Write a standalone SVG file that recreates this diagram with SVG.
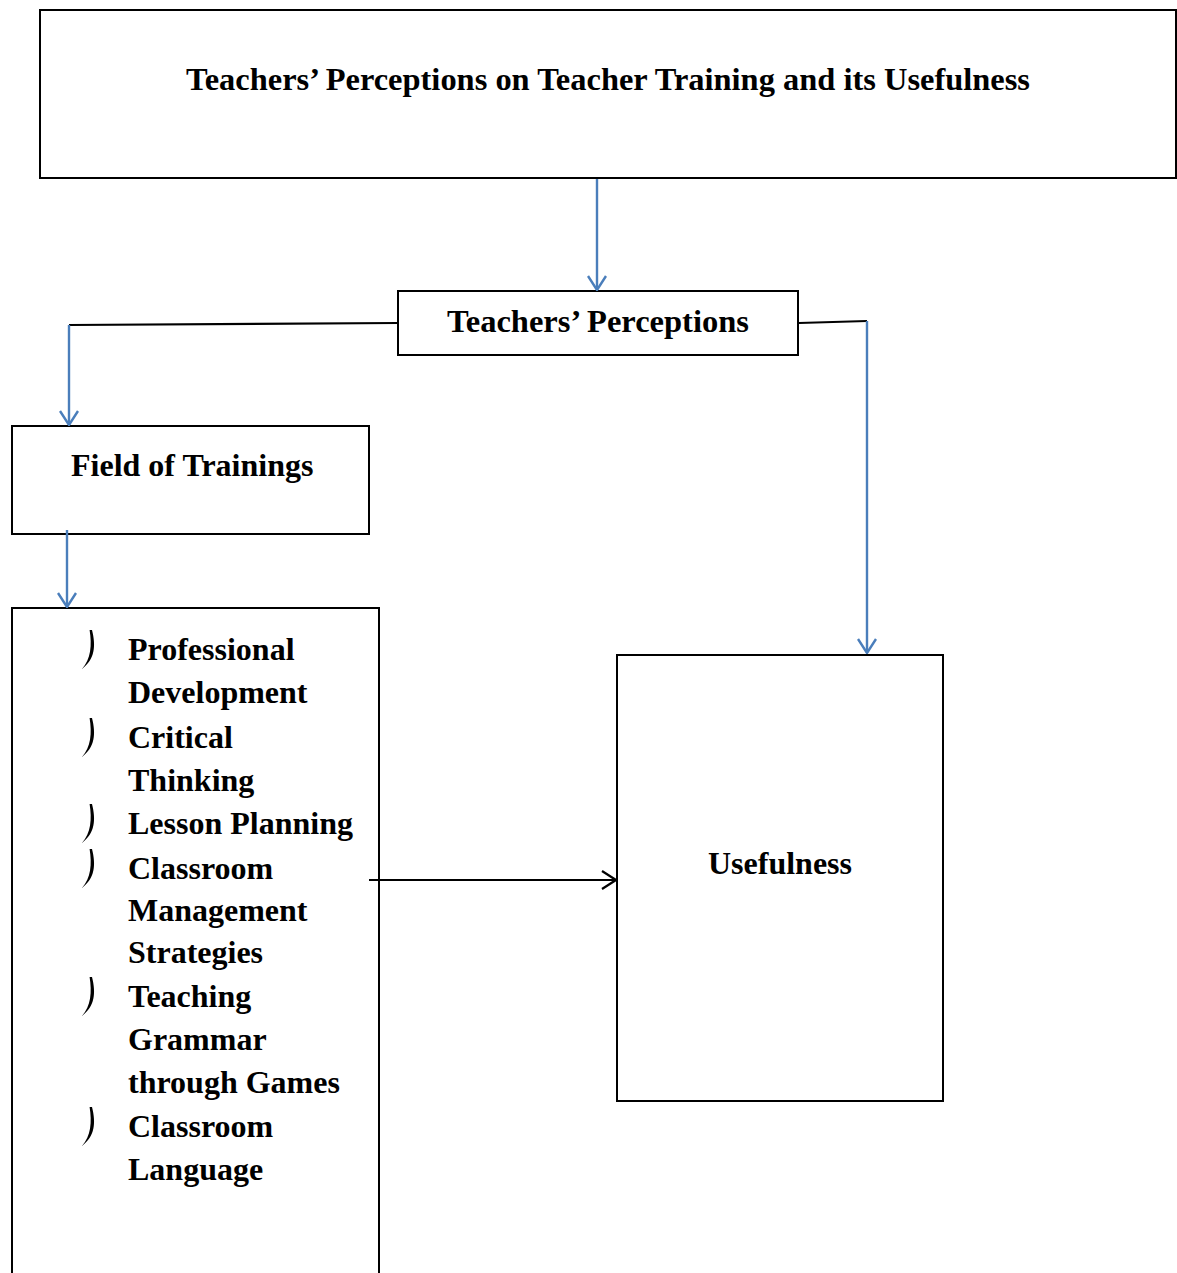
<svg xmlns="http://www.w3.org/2000/svg" width="1177" height="1273" viewBox="0 0 1177 1273">
  <style>
    .box { fill: #ffffff; stroke: #000000; stroke-width: 2; }
    .lbl { font-family: "Liberation Serif", "Times New Roman", serif; font-weight: bold; font-size: 32px; fill: #000000; }
    .blue { fill: none; stroke: #4a7ebb; stroke-width: 2.4; }
    .black { fill: none; stroke: #000000; stroke-width: 2.2; }
    .bullet { fill: #000000; stroke: none; }
  </style>
  <defs>
    <marker id="arrowBlue" viewBox="0 0 16 20" refX="15" refY="10" markerWidth="16" markerHeight="20" markerUnits="userSpaceOnUse" orient="auto">
      <path d="M1,1 L15,10 L1,19" fill="none" stroke="#4a7ebb" stroke-width="2.4"/>
    </marker>
    <marker id="arrowBlack" viewBox="0 0 16 20" refX="15" refY="10" markerWidth="16" markerHeight="20" markerUnits="userSpaceOnUse" orient="auto">
      <path d="M1,1 L15,10 L1,19" fill="none" stroke="#000000" stroke-width="2.2"/>
    </marker>
    <!-- hooked bullet mark, anchored at the text baseline -->
    <path id="hook" d="M10,-30 C14,-14 13,-1 0,9 C9,-1 10,-15 7.6,-30 Z"/>
  </defs>

  <g id="title">
    <rect class="box" x="40" y="10" width="1136" height="168" stroke-width="2.5"/>
    <text class="lbl" x="608" y="90" text-anchor="middle" textLength="844" lengthAdjust="spacingAndGlyphs">Teachers’ Perceptions on Teacher Training and its Usefulness</text>
  </g>

  <g id="perceptions">
    <rect class="box" x="398" y="291" width="400" height="64"/>
    <text class="lbl" x="598" y="332" text-anchor="middle" textLength="302" lengthAdjust="spacingAndGlyphs">Teachers’ Perceptions</text>
  </g>

  <g id="field">
    <rect class="box" x="12" y="426" width="357" height="108"/>
    <text class="lbl" x="71" y="476">Field of Trainings</text>
  </g>

  <g id="training-list">
    <rect class="box" x="12" y="608" width="367" height="700"/>
    <use href="#hook" class="bullet" x="82" y="660"/>
    <use href="#hook" class="bullet" x="82" y="748"/>
    <use href="#hook" class="bullet" x="82" y="834"/>
    <use href="#hook" class="bullet" x="82" y="879"/>
    <use href="#hook" class="bullet" x="82" y="1007"/>
    <use href="#hook" class="bullet" x="82" y="1137"/>
    <text class="lbl" x="128" y="660">Professional</text>
    <text class="lbl" x="128" y="703">Development</text>
    <text class="lbl" x="128" y="748">Critical</text>
    <text class="lbl" x="128" y="791">Thinking</text>
    <text class="lbl" x="128" y="834">Lesson Planning</text>
    <text class="lbl" x="128" y="879">Classroom</text>
    <text class="lbl" x="128" y="921">Management</text>
    <text class="lbl" x="128" y="963">Strategies</text>
    <text class="lbl" x="128" y="1007">Teaching</text>
    <text class="lbl" x="128" y="1050">Grammar</text>
    <text class="lbl" x="128" y="1093">through Games</text>
    <text class="lbl" x="128" y="1137">Classroom</text>
    <text class="lbl" x="128" y="1180">Language</text>
  </g>

  <g id="usefulness">
    <rect class="box" x="617" y="655" width="326" height="446"/>
    <text class="lbl" x="780" y="874" text-anchor="middle">Usefulness</text>
  </g>

  <g id="connectors">
    <path class="blue" d="M597,179 L597,290" marker-end="url(#arrowBlue)"/>
    <path class="black" d="M398,323 L69,325"/>
    <path class="blue" d="M69,325 L69,425" marker-end="url(#arrowBlue)"/>
    <path class="black" d="M799,323 L867,321"/>
    <path class="blue" d="M867,321 L867,653" marker-end="url(#arrowBlue)"/>
    <path class="blue" d="M67,530 L67,607" marker-end="url(#arrowBlue)"/>
    <path class="black" d="M369,880 L616,880" marker-end="url(#arrowBlack)"/>
  </g>
</svg>
